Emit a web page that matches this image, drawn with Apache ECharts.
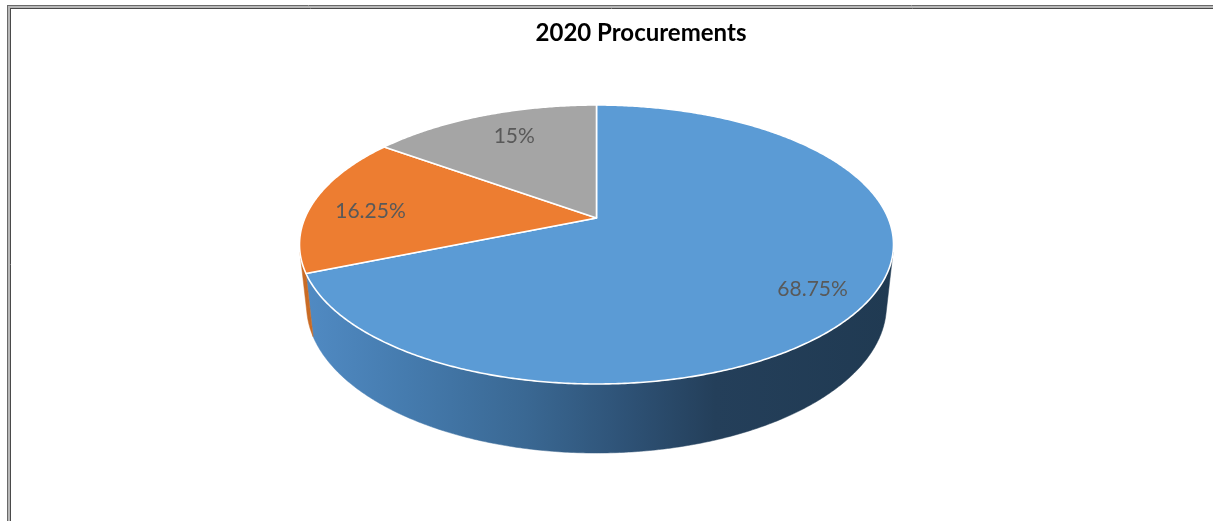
<!DOCTYPE html>
<html>
<head>
<meta charset="utf-8">
<title>2020 Procurements</title>
<script src="https://cdn.jsdelivr.net/npm/echarts@6/dist/echarts.min.js"></script>
<style>
  html, body { margin: 0; padding: 0; background: #ffffff; }
  #chart { width: 1213px; height: 521px; }
</style>
</head>
<body>
<div id="chart"></div>
<script>
// Procurement shares for 2020 (percent of total)
const categories = ['Procurement A', 'Procurement B', 'Procurement C'];
const shares = [68.75, 16.25, 15];
const topColors = ['#5b9bd5', '#ed7d31', '#a5a5a5'];
// small pixel nudges for the value labels
const labelNudge = [[10, 8], [-4, 5], [9, 1]];

// Perspective camera for the tilted disc (radius 1, thickness DEPTH)
const CX = 596.5, CY = 218;      // projected centre of the top face
const FOCAL = 1362;              // focal length in pixels
const DIST = 4.671;              // camera distance in disc radii
const SIN_T = 0.4611, COS_T = 0.8874; // camera elevation
const DEPTH = 0.2374;            // disc thickness in radii
const LABEL_R = 0.78;            // radial position of value labels

// theta: degrees clockwise from the far point, y: 0 for top face, -DEPTH for bottom
function project(theta, y, r) {
  const rad = theta * Math.PI / 180;
  const rr = r === undefined ? 1 : r;
  const X = rr * Math.sin(rad), Z = -rr * Math.cos(rad);
  const zc = DIST - y * SIN_T - Z * COS_T;
  const yc = y * COS_T - Z * SIN_T;
  return [CX + FOCAL * X / zc, CY - FOCAL * yc / zc];
}

// angular span where the outer wall faces the camera
const wallLimit = Math.acos(-1 / (DIST * COS_T)) * 180 / Math.PI;
const wallFrom = wallLimit, wallTo = 360 - wallLimit;

// cumulative slice angles, starting at twelve o'clock, clockwise
let acc = 0;
const sliceData = shares.map(function (v, i) {
  const a0 = acc / 100 * 360;
  acc += v;
  const a1 = acc / 100 * 360;
  return { name: categories[i], value: [v, a0, a1] };
});

const wallFills = [
  new echarts.graphic.LinearGradient(300, 0, 893, 0, [
    { offset: 0, color: '#518bc4' },
    { offset: 0.18, color: '#457bae' },
    { offset: 0.38, color: '#3a6893' },
    { offset: 0.55, color: '#2e5276' },
    { offset: 0.7, color: '#243f5a' },
    { offset: 1, color: '#203a52' }
  ], true),
  '#c96b25',
  '#7f7f7f'
];

function arcPoints(a0, a1, y) {
  const pts = [];
  const steps = Math.max(2, Math.ceil((a1 - a0) / 0.5));
  for (let k = 0; k <= steps; k++) {
    pts.push(project(a0 + (a1 - a0) * k / steps, y));
  }
  return pts;
}

function renderSlice(params, api) {
  const idx = params.dataIndex;
  const value = api.value(0);
  const a0 = api.value(1), a1 = api.value(2);
  const children = [];

  // visible outer wall
  const lo = Math.max(a0, wallFrom), hi = Math.min(a1, wallTo);
  if (hi > lo) {
    const top = arcPoints(lo, hi, 0);
    const bottom = arcPoints(lo, hi, -DEPTH).reverse();
    children.push({
      type: 'polygon',
      z2: 1,
      shape: { points: top.concat(bottom) },
      style: { fill: wallFills[idx], stroke: wallFills[idx], lineWidth: 0.5 }
    });
  }

  // top face
  const facePts = [project(0, 0, 0)].concat(arcPoints(a0, a1, 0));
  children.push({
    type: 'polygon',
    z2: 5,
    shape: { points: facePts },
    style: { fill: topColors[idx], stroke: '#ffffff', lineWidth: 1.6, lineJoin: 'round' }
  });

  // value label
  const mid = (a0 + a1) / 2;
  const lp = project(mid, 0, LABEL_R);
  children.push({
    type: 'text',
    z2: 10,
    x: lp[0] + labelNudge[idx][0], y: lp[1] + labelNudge[idx][1],
    style: {
      text: value + '%',
      fill: '#595959',
      font: '21px Lato, "Open Sans", sans-serif',
      align: 'center',
      verticalAlign: 'middle'
    }
  });

  return { type: 'group', children: children };
}

const chart = echarts.init(document.getElementById('chart'), null, { renderer: 'canvas' });
chart.setOption({
  backgroundColor: '#ffffff',
  animation: false,
  title: {
    text: '2020 Procurements',
    left: 636,
    top: 16,
    textAlign: 'center',
    textStyle: {
      fontFamily: 'Lato, sans-serif',
      fontWeight: 'bold',
      fontSize: 24,
      color: '#000000'
    }
  },
  graphic: [
    { type: 'line', shape: { x1: 7.5, y1: 5, x2: 7.5, y2: 521 }, style: { stroke: '#6a6a6a', lineWidth: 1 } },
    { type: 'line', shape: { x1: 9, y1: 6, x2: 9, y2: 521 }, style: { stroke: '#b8b8b8', lineWidth: 2 } },
    { type: 'line', shape: { x1: 10.5, y1: 8, x2: 10.5, y2: 521 }, style: { stroke: '#4a4a4a', lineWidth: 1 } },
    { type: 'line', shape: { x1: 7, y1: 5.5, x2: 1213, y2: 5.5 }, style: { stroke: '#6a6a6a', lineWidth: 1 } },
    { type: 'line', shape: { x1: 8, y1: 7, x2: 1213, y2: 7 }, style: { stroke: '#b8b8b8', lineWidth: 2 } },
    { type: 'line', shape: { x1: 10, y1: 8.5, x2: 1213, y2: 8.5 }, style: { stroke: '#4a4a4a', lineWidth: 1 } }
  ],
  series: [{
    type: 'custom',
    coordinateSystem: 'none',
    renderItem: renderSlice,
    data: sliceData
  }]
});
</script>
</body>
</html>
